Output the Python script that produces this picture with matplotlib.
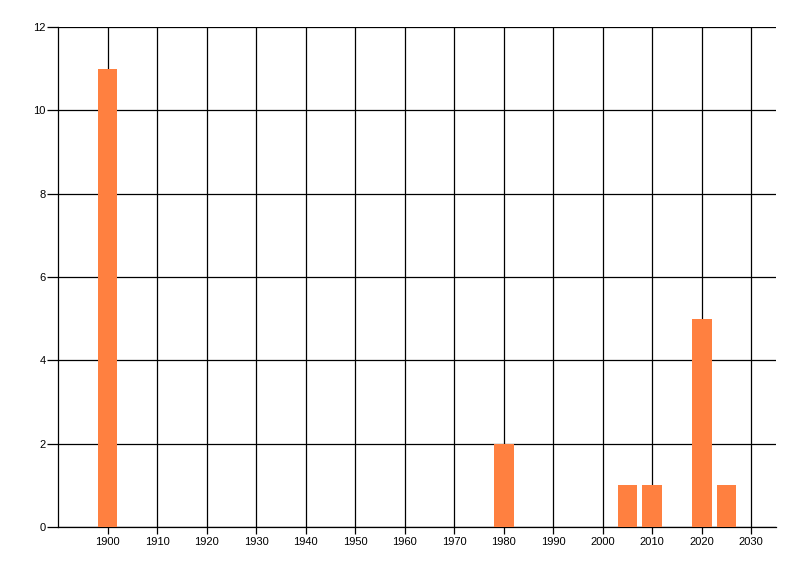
import matplotlib
matplotlib.use("Agg")
import matplotlib.pyplot as plt

years = [1900, 1980, 2005, 2010, 2020, 2025]
counts = [11, 2, 1, 1, 5, 1]
x_ticks = list(range(1900, 2031, 10))
y_ticks = list(range(0, 13, 2))

fig = plt.figure(figsize=(8.0, 5.76), dpi=100)
ax = fig.add_axes([58/800, 1-527/576, (776-58)/800, (527-27)/576])
ax.bar(years, counts, width=4, color="#FF8040", zorder=3)
ax.set_xlim(1890, 2035)
ax.set_ylim(0, 12)
ax.set_xticks(x_ticks)
ax.set_yticks(y_ticks)
ax.grid(True, color="black", linewidth=0.9, zorder=0)
for s in ["top", "right"]:
    ax.spines[s].set_visible(False)
for s in ["left", "bottom"]:
    ax.spines[s].set_linewidth(0.9)
ax.tick_params(axis="x", length=5, width=0.9, labelsize=8, pad=2)
ax.tick_params(axis="y", length=8, width=0.9, labelsize=8, pad=1)
for lab in ax.get_xticklabels() + ax.get_yticklabels():
    lab.set_family("Liberation Sans")
fig.savefig("out.png", dpi=100)
